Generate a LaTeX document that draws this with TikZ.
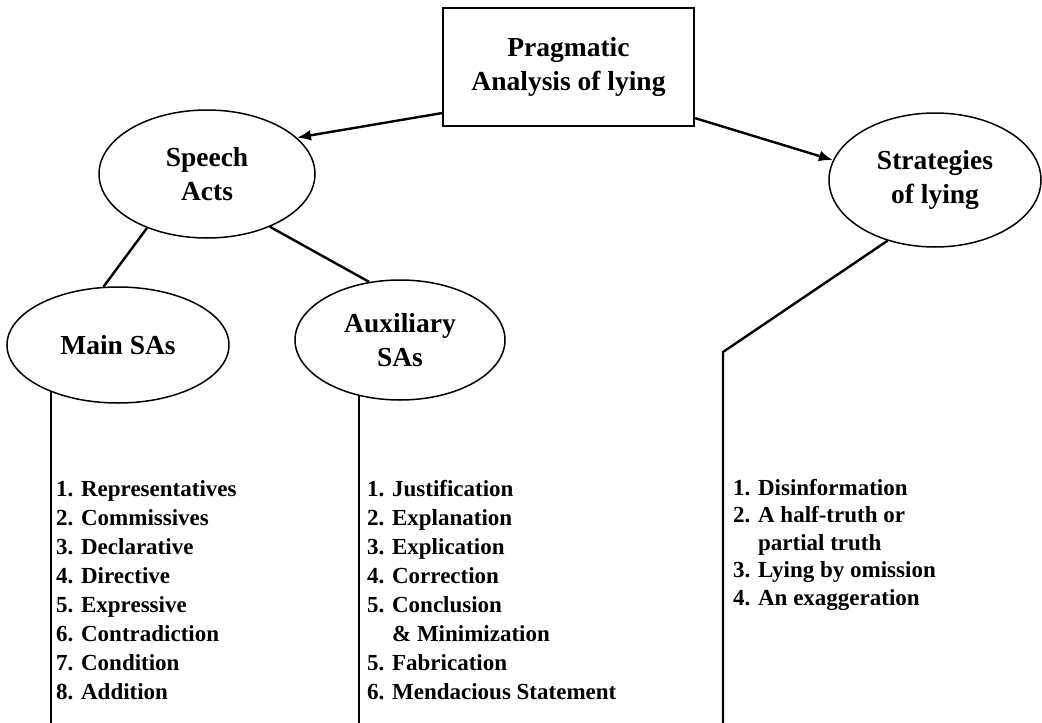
\documentclass[tikz,border=0pt]{standalone}
\usepackage{fontspec}
\setmainfont{Liberation Serif}
\usetikzlibrary{shapes.geometric,arrows.meta}
\tikzset{
  headfont/.style={font=\fontsize{27.5}{34}\selectfont\bfseries},
  ell/.style={ellipse,draw,line width=1.5pt,inner sep=0pt,align=center,headfont},
  topbox/.style={rectangle,draw,line width=2.2pt,inner sep=0pt,align=center,headfont},
  conn/.style={line width=2.4pt},
  arr/.style={conn,-{Latex[length=14pt,width=11pt]}},
  item/.style={anchor=base west,inner sep=0pt,font=\fontsize{23}{28}\selectfont\bfseries},
}
\begin{document}
\begin{tikzpicture}[x=1pt,y=-1pt]
\useasboundingbox (0,0) rectangle (1042,723);
\coordinate (bot) at (0,723);

\node[topbox,minimum width=251pt,minimum height=118pt] (top) at (568.5,67) {Pragmatic\\Analysis of lying};
\node[ell,minimum width=216pt,minimum height=128pt] (sa) at (207,174) {Speech\\Acts};
\node[ell,minimum width=222pt,minimum height=116pt] (main) at (118,345) {Main SAs};
\node[ell,minimum width=210pt,minimum height=120pt] (aux) at (400,340) {Auxiliary\\SAs};
\node[ell,minimum width=212pt,minimum height=134pt] (str) at (935,180) {Strategies\\of lying};

\draw[arr] (top.200) -- (sa.22.3);
\draw[arr] (top.338.7) -- (str.169);
\draw[conn] (sa.222) -- (main.104.5);
\draw[conn] (sa.320.4) -- (aux.118.9);
\draw[conn] (main.215.5) -- (main.215.5 |- bot);
\draw[conn] (aux.234.2) -- (aux.234.2 |- bot);
\coordinate (bend) at (723,352);
\draw[conn] (str.232) -- (bend) -- (bend |- bot);

\foreach \t [count=\i] in {1. Representatives,2. Commissives,3. Declarative,4. Directive,5. Expressive,6. Contradiction,7. Condition,8. Addition}
  \node[item] (m\i) at (56,{496+29*(\i-1)}) {\t};

\foreach \t [count=\i] in {1. Justification,2. Explanation,3. Explication,4. Correction,5. Conclusion,\phantom{5. }\& Minimization,5. Fabrication,6. Mendacious Statement}
  \node[item] (a\i) at (367,{496+29*(\i-1)}) {\t};

\foreach \t [count=\i] in {1. Disinformation,2. A half-truth or,\phantom{2. }partial truth,3. Lying by omission,4. An exaggeration}
  \node[item] (s\i) at (733,{495+27.5*(\i-1)}) {\t};
\end{tikzpicture}
\end{document}
